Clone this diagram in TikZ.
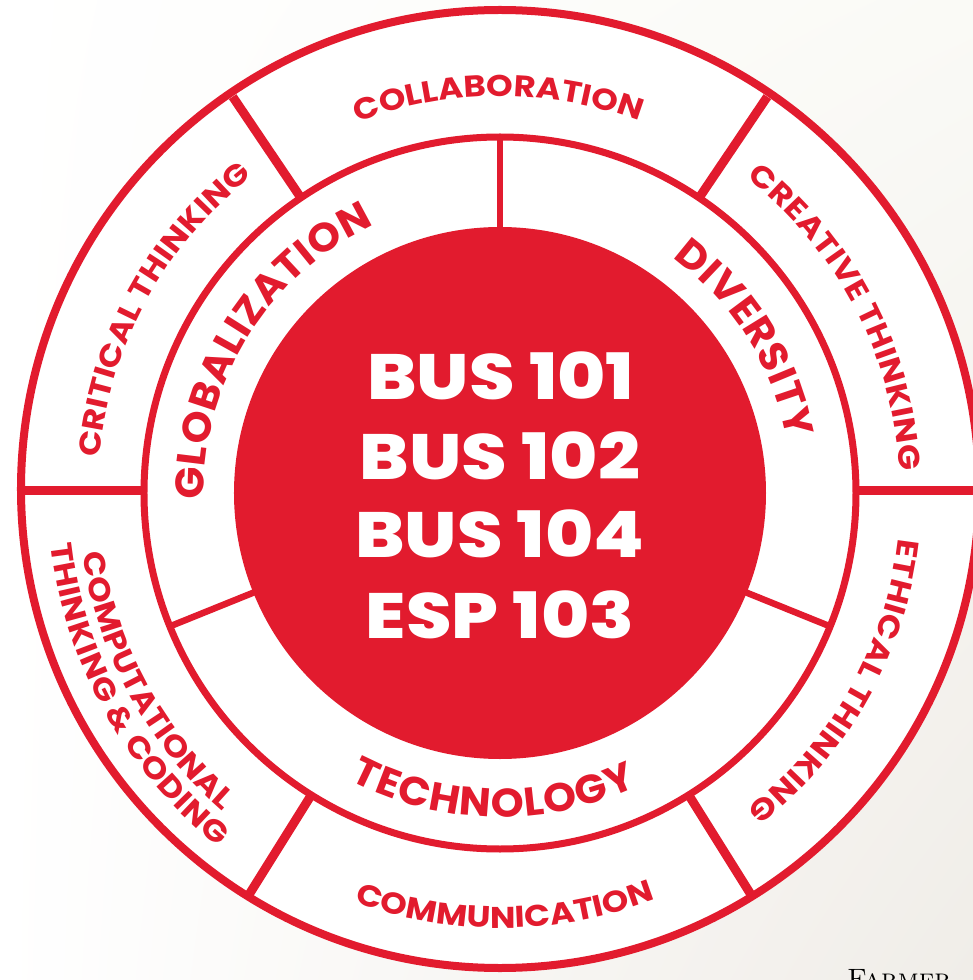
\documentclass[tikz,border=0pt]{standalone}
\usepackage{fontspec}
\usetikzlibrary{decorations.text,shadings}
\IfFontExistsTF{Poppins Bold}
  {\newfontfamily\ringfont{Poppins Bold}[FakeStretch=1.13]
   \newfontfamily\innerfont{Poppins Bold}[FakeStretch=1.05]}
  {\newfontfamily\ringfont{DejaVu Sans Bold}
   \newfontfamily\innerfont{DejaVu Sans Bold}}
\IfFontExistsTF{Poppins ExtraBold}
  {\newfontfamily\heavyfont{Poppins ExtraBold}[FakeStretch=1.15]}
  {\newfontfamily\heavyfont{DejaVu Sans Bold}}
\definecolor{brandred}{HTML}{E21B2E}
\definecolor{bgtr}{RGB}{250,250,246}
\definecolor{bgbr}{RGB}{240,237,232}
\tikzset{
  redline/.style={draw=brandred},
  outerdiv/.style={draw=brandred, line width=9pt},
  innerdiv/.style={draw=brandred, line width=6.5pt},
  ringtext/.style={decorate, decoration={text along path, text align={fit to path},
      text={|\ringfont\fontsize{30}{36}\selectfont\color{brandred}|#1}}},
  innertext/.style={decorate, decoration={text along path, text align={fit to path},
      text={|\innerfont\fontsize{40}{48}\selectfont\color{brandred}|#1}}},
  course/.style={text=white, inner sep=0pt, font=\heavyfont\fontsize{64}{64}\selectfont},
}
\begin{document}
\begin{tikzpicture}[x=1pt,y=1pt]
\useasboundingbox (-500,-487) rectangle (473,493);
\clip (-500,-487) rectangle (473,493);
\shade[upper left=white, upper right=bgtr, lower left=white, lower right=bgbr]
  (-500,-487) rectangle (473,493);
\coordinate (c) at (0,0);
% white discs
\fill[white] (0,4) circle[radius=479pt];
% outer ring dividers
\foreach \a in {56,124,238,302} \draw[outerdiv] (\a:356pt) -- (\a:478pt);
\coordinate (hl1) at (-478,3); \coordinate (hl2) at (-356,3);
\coordinate (hr1) at (356,3); \coordinate (hr2) at (478,3);
\draw[outerdiv] (hl1) -- (hl2);
\draw[outerdiv] (hr1) -- (hr2);
% inner ring dividers
\foreach \a in {90,202,338} \draw[innerdiv] (\a:264pt) -- (\a:356pt);
% circles
\draw[redline, line width=8pt] (0,4) circle[radius=479pt];
\draw[redline, line width=7pt] (c) circle[radius=356pt];
\fill[brandred] (c) circle[radius=266pt];
% outer ring texts
\path[ringtext={COLLABORATION}] (111:397pt) arc[start angle=111, end angle=69.5, radius=397pt];
\path[ringtext={CRITICAL THINKING}] (175:402pt) arc[start angle=175, end angle=128, radius=402pt];
\path[ringtext={CREATIVE THINKING}] (52:400pt) arc[start angle=52, end angle=3.2, radius=400pt];
\path[ringtext={ETHICAL THINKING}] (353.5:401pt) arc[start angle=353.5, end angle=308, radius=401pt];
\path[ringtext={COMMUNICATION}] (250.4:435pt) arc[start angle=250.4, end angle=290.9, radius=435pt];
\path[ringtext={COMPUTATIONAL}] (188.3:422pt) arc[start angle=188.3, end angle=228.9, radius=422pt];
\path[ringtext={THINKING {\&} CODING}] (186.5:452pt) arc[start angle=186.5, end angle=231.5, radius=452pt];
% inner ring texts
\path[innertext={GLOBALIZATION}] (181.3:296pt) arc[start angle=181.3, end angle=115.2, radius=296pt];
\path[innertext={DIVERSITY}] (53.8:292pt) arc[start angle=53.8, end angle=10.6, radius=292pt];
\path[innertext={TECHNOLOGY}] (242.4:324pt) arc[start angle=242.4, end angle=295, radius=324pt];
% centre
\node[course] (bus101) at (1,117.5) {BUS 101};
\node[course] (bus102) at (0,37.5) {BUS 102};
\node[course] (bus104) at (0,-41) {BUS 104};
\node[course] (esp103) at (0,-121.5) {ESP 103};
% cut-off caption
\node[anchor=base west, inner sep=0pt, text=black, font=\fontsize{28}{30}\selectfont\scshape] (farmer) at (347,-495) {Farmer};
\end{tikzpicture}
\end{document}
